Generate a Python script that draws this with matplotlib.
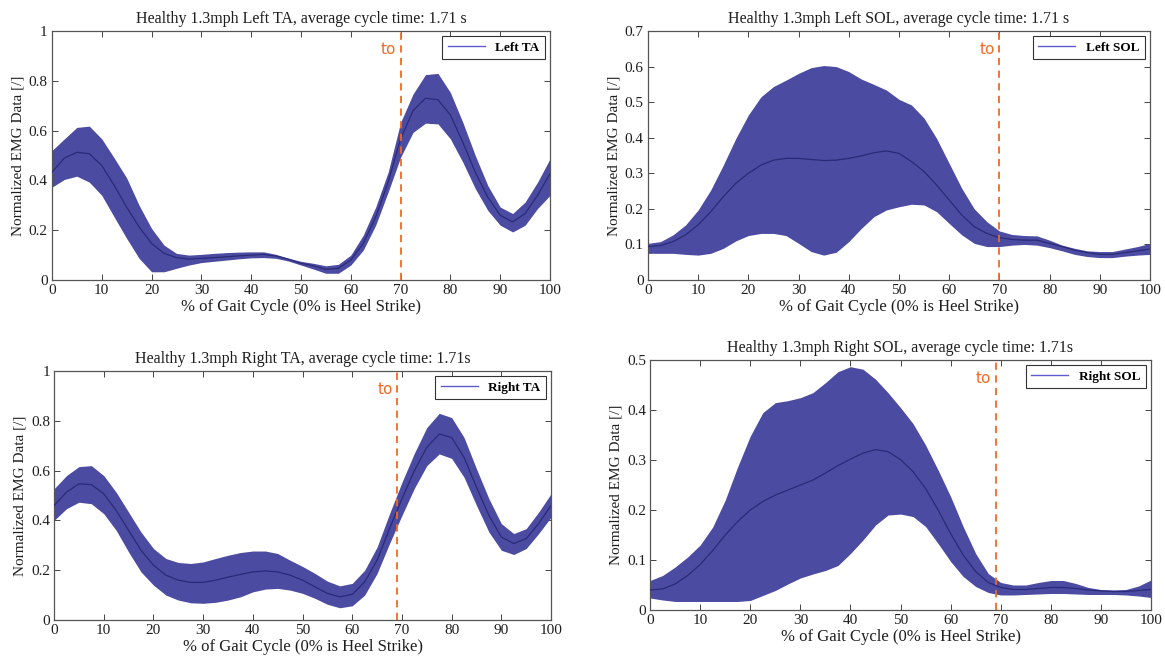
import numpy as np
import matplotlib
matplotlib.use("Agg")
import matplotlib.pyplot as plt
from matplotlib.ticker import FuncFormatter

plt.rcParams['font.family'] = ['Liberation Serif', 'DejaVu Serif']

# gait cycle sample points (% of cycle)
gait_pct = np.arange(0, 100.01, 2.5)

# Left TA
left_ta_mean = [0.433, 0.49, 0.513, 0.507, 0.46, 0.38, 0.293, 0.213, 0.147, 0.107, 0.09,
                0.084, 0.087, 0.09, 0.093, 0.097, 0.10, 0.103, 0.096, 0.084, 0.067,
                0.057, 0.043, 0.047, 0.08, 0.147, 0.253, 0.393, 0.567, 0.68, 0.73,
                0.724, 0.663, 0.553, 0.433, 0.333, 0.26, 0.233, 0.267, 0.34, 0.427]
left_ta_upper = [0.52, 0.567, 0.613, 0.618, 0.567, 0.49, 0.41, 0.30, 0.207, 0.14, 0.107,
                 0.10, 0.103, 0.107, 0.11, 0.112, 0.113, 0.113, 0.103, 0.087, 0.075,
                 0.067, 0.057, 0.063, 0.10, 0.18, 0.293, 0.433, 0.633, 0.747, 0.825,
                 0.83, 0.753, 0.633, 0.50, 0.38, 0.293, 0.267, 0.313, 0.393, 0.487]
left_ta_lower = [0.373, 0.404, 0.417, 0.393, 0.34, 0.253, 0.167, 0.087, 0.033, 0.033, 0.047,
                 0.06, 0.07, 0.075, 0.08, 0.085, 0.089, 0.09, 0.087, 0.076, 0.06,
                 0.044, 0.027, 0.027, 0.06, 0.12, 0.22, 0.353, 0.493, 0.593, 0.63,
                 0.627, 0.567, 0.473, 0.367, 0.28, 0.22, 0.193, 0.22, 0.287, 0.34]

# Left SOL
left_sol_mean = [0.094, 0.097, 0.108, 0.127, 0.155, 0.192, 0.234, 0.272, 0.30, 0.323, 0.337,
                 0.342, 0.342, 0.339, 0.336, 0.337, 0.342, 0.349, 0.358, 0.363, 0.356,
                 0.333, 0.305, 0.267, 0.225, 0.183, 0.15, 0.131, 0.119, 0.114, 0.112,
                 0.112, 0.103, 0.094, 0.084, 0.077, 0.072, 0.072, 0.077, 0.082, 0.087]
left_sol_upper = [0.103, 0.108, 0.127, 0.155, 0.197, 0.253, 0.323, 0.398, 0.464, 0.515, 0.544,
                  0.562, 0.581, 0.597, 0.603, 0.60, 0.586, 0.565, 0.55, 0.534, 0.508,
                  0.492, 0.455, 0.398, 0.328, 0.258, 0.20, 0.164, 0.138, 0.128, 0.125,
                  0.124, 0.112, 0.098, 0.089, 0.082, 0.08, 0.08, 0.087, 0.094, 0.103]
left_sol_lower = [0.075, 0.075, 0.075, 0.072, 0.07, 0.075, 0.089, 0.11, 0.125, 0.131, 0.131,
                  0.125, 0.103, 0.08, 0.07, 0.078, 0.108, 0.145, 0.178, 0.197, 0.206,
                  0.213, 0.211, 0.192, 0.159, 0.127, 0.103, 0.094, 0.094, 0.098, 0.10,
                  0.098, 0.091, 0.082, 0.072, 0.066, 0.063, 0.063, 0.067, 0.07, 0.072]

# Right TA
right_ta_mean = [0.46, 0.513, 0.547, 0.544, 0.507, 0.44, 0.36, 0.28, 0.22, 0.18, 0.16,
                 0.151, 0.151, 0.16, 0.172, 0.183, 0.193, 0.197, 0.193, 0.18, 0.16,
                 0.133, 0.107, 0.093, 0.103, 0.153, 0.24, 0.367, 0.487, 0.60, 0.693,
                 0.747, 0.733, 0.653, 0.533, 0.42, 0.333, 0.307, 0.327, 0.387, 0.46]
right_ta_upper = [0.527, 0.58, 0.616, 0.62, 0.58, 0.513, 0.433, 0.353, 0.287, 0.247, 0.231,
                  0.227, 0.233, 0.247, 0.26, 0.271, 0.277, 0.277, 0.267, 0.24, 0.215,
                  0.187, 0.156, 0.137, 0.147, 0.20, 0.293, 0.427, 0.553, 0.67, 0.773,
                  0.83, 0.813, 0.733, 0.607, 0.487, 0.387, 0.347, 0.367, 0.433, 0.507]
right_ta_lower = [0.40, 0.447, 0.473, 0.467, 0.427, 0.36, 0.273, 0.193, 0.14, 0.10, 0.08,
                  0.069, 0.067, 0.071, 0.08, 0.093, 0.113, 0.124, 0.127, 0.12, 0.107,
                  0.087, 0.063, 0.049, 0.057, 0.10, 0.187, 0.307, 0.42, 0.529, 0.62,
                  0.667, 0.649, 0.573, 0.46, 0.353, 0.28, 0.263, 0.287, 0.347, 0.413]

# Right SOL
right_sol_mean = [0.04, 0.042, 0.052, 0.069, 0.091, 0.119, 0.15, 0.177, 0.20, 0.217, 0.23,
                  0.24, 0.25, 0.26, 0.274, 0.289, 0.302, 0.314, 0.321, 0.317, 0.301,
                  0.277, 0.243, 0.20, 0.153, 0.11, 0.077, 0.055, 0.045, 0.041, 0.041,
                  0.043, 0.045, 0.045, 0.043, 0.04, 0.038, 0.037, 0.037, 0.039, 0.041]
right_sol_upper = [0.059, 0.069, 0.086, 0.106, 0.13, 0.166, 0.22, 0.287, 0.348, 0.395, 0.415,
                   0.419, 0.425, 0.435, 0.455, 0.477, 0.487, 0.482, 0.462, 0.435, 0.405,
                   0.373, 0.33, 0.28, 0.227, 0.167, 0.113, 0.073, 0.055, 0.05, 0.05,
                   0.055, 0.059, 0.059, 0.053, 0.045, 0.041, 0.04, 0.041, 0.048, 0.06]
right_sol_lower = [0.024, 0.02, 0.017, 0.017, 0.017, 0.017, 0.017, 0.017, 0.019, 0.029, 0.039,
                   0.052, 0.064, 0.072, 0.079, 0.089, 0.113, 0.14, 0.17, 0.19, 0.192,
                   0.187, 0.167, 0.133, 0.097, 0.067, 0.047, 0.035, 0.03, 0.03, 0.031,
                   0.032, 0.033, 0.033, 0.032, 0.031, 0.031, 0.031, 0.03, 0.028, 0.025]

panels = [
    dict(title="Healthy 1.3mph Left TA, average cycle time: 1.71 s", label="Left TA",
         mean=left_ta_mean, upper=left_ta_upper, lower=left_ta_lower,
         toe_off=70, ymax=1.0, ystep=0.2,
         rect=[0.0446, 0.5751, 0.4275, 0.3778]),
    dict(title="Healthy 1.3mph Left SOL, average cycle time: 1.71 s", label="Left SOL",
         mean=left_sol_mean, upper=left_sol_upper, lower=left_sol_lower,
         toe_off=70, ymax=0.7, ystep=0.1,
         rect=[0.5562, 0.5751, 0.4309, 0.3778]),
    dict(title="Healthy 1.3mph Right TA, average cycle time: 1.71s", label="Right TA",
         mean=right_ta_mean, upper=right_ta_upper, lower=right_ta_lower,
         toe_off=69, ymax=1.0, ystep=0.2,
         rect=[0.0464, 0.0592, 0.4266, 0.3778]),
    dict(title="Healthy 1.3mph Right SOL, average cycle time: 1.71s", label="Right SOL",
         mean=right_sol_mean, upper=right_sol_upper, lower=right_sol_lower,
         toe_off=69, ymax=0.5, ystep=0.1,
         rect=[0.558, 0.0744, 0.430, 0.379]),
]

band_color = '#4b4ba2'
mean_color = '#2a2a78'
legend_color = '#5c5cd0'
toe_color = '#f26a22'
text_color = '#1e1e1e'

fig = plt.figure(figsize=(11.65, 6.59), dpi=100)

def tick_fmt(v, _):
    s = f"{v:.1f}"
    if s.endswith(".0"):
        s = s[:-2]
    return s

for p in panels:
    ax = fig.add_axes(p['rect'])
    ax.fill_between(gait_pct, p['lower'], p['upper'], color=band_color, lw=0, zorder=2)
    ax.plot(gait_pct, p['mean'], color=mean_color, lw=0.9, zorder=3)
    ax.plot([], [], color=legend_color, lw=1.0, label=p['label'])
    ax.axvline(p['toe_off'], color=toe_color, lw=1.3, dashes=(4, 3), zorder=4)
    ax.text(p['toe_off'] - 0.9, p['ymax'] * 0.925, 'to', color=toe_color,
            ha='right', va='center', fontsize=11, family='DejaVu Sans')
    ax.set_xlim(0, 100)
    ax.set_ylim(0, p['ymax'])
    ax.set_xticks(np.arange(0, 101, 10))
    ax.set_yticks(np.arange(0, p['ymax'] + 1e-9, p['ystep']))
    ax.yaxis.set_major_formatter(FuncFormatter(tick_fmt))
    ax.tick_params(direction='in', top=True, right=True, length=4, width=0.7,
                   labelsize=11, colors='#444444', labelcolor=text_color, pad=3)
    for s in ax.spines.values():
        s.set_color('#555555')
        s.set_linewidth(0.9)
    ax.set_title(p['title'], fontsize=11.5, pad=6, color=text_color)
    ax.set_xlabel('% of Gait Cycle (0% is Heel Strike)', fontsize=12, labelpad=1,
                  color=text_color)
    ax.set_ylabel('Normalized EMG Data [/]', fontsize=11, labelpad=3, color=text_color)
    leg = ax.legend(loc='upper right', handlelength=2.8, fancybox=False,
                    borderaxespad=0.4, borderpad=0.4, framealpha=1,
                    prop={'weight': 'bold', 'size': 9.5})
    leg.get_frame().set_edgecolor('#333333')
    leg.get_frame().set_linewidth(0.8)

fig.savefig('out.png', dpi=100, facecolor='white')
